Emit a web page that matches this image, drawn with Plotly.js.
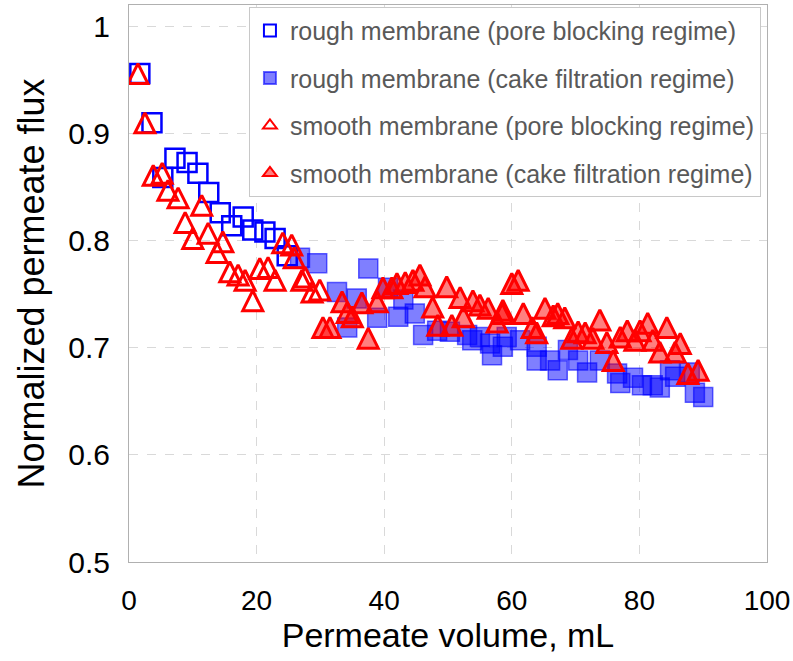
<!DOCTYPE html>
<html>
<head>
<meta charset="utf-8">
<script src="https://cdn.plot.ly/plotly-3.0.1.min.js"></script>
<style>
  html, body { margin: 0; padding: 0; background: #ffffff; }
  #chart { width: 793px; height: 661px; }
</style>
</head>
<body>
<div id="chart"></div>
<script>
// Rough membrane, pore blocking regime
const roughPoreX = [1.7, 3.6, 5.3, 7.2, 9.1, 10.8, 12.5, 14.3, 16.1, 17.9, 19.4, 21.3, 22.9, 24.8];
const roughPoreY = [0.956, 0.910, 0.859, 0.877, 0.873, 0.863, 0.845, 0.826, 0.814, 0.822, 0.810, 0.808, 0.802, 0.786];

// Rough membrane, cake filtration regime
const roughCakeX = [26.8, 29.5, 32.6, 34.2, 35.7, 37.5, 38.9, 40.6, 42.2, 43.0, 44.8, 46.1, 48.3, 50.3, 53.0, 53.8, 55.0, 56.6, 56.9, 58.6, 59.2, 61.3, 63.9, 63.9, 66.0, 67.2, 68.8, 70.4, 71.8, 73.8, 76.5, 77.0, 79.0, 80.4, 82.1, 83.2, 84.8, 85.6, 87.9, 88.7, 90.0];
const roughCakeY = [0.784, 0.779, 0.752, 0.719, 0.746, 0.774, 0.728, 0.756, 0.729, 0.745, 0.732, 0.712, 0.716, 0.715, 0.712, 0.707, 0.710, 0.704, 0.693, 0.701, 0.710, 0.707, 0.701, 0.688, 0.688, 0.679, 0.698, 0.688, 0.677, 0.688, 0.676, 0.667, 0.672, 0.665, 0.665, 0.663, 0.679, 0.673, 0.677, 0.658, 0.654];

// Smooth membrane, pore blocking regime
const smoothPoreX = [1.4, 2.5, 3.8, 5.2, 6.1, 7.7, 8.8, 10.0, 11.4, 12.4, 13.8, 14.7, 15.8, 17.1, 18.2, 19.4, 20.5, 21.8, 22.9, 24.1, 25.5, 25.9, 27.1, 27.6, 28.7, 29.9];
const smoothPoreY = [0.956, 0.910, 0.861, 0.863, 0.847, 0.840, 0.817, 0.802, 0.833, 0.807, 0.789, 0.799, 0.771, 0.768, 0.763, 0.744, 0.774, 0.775, 0.763, 0.798, 0.796, 0.784, 0.763, 0.766, 0.752, 0.754];

// Smooth membrane, cake filtration regime
const smoothCakeX = [30.4, 31.5, 33.4, 34.2, 35.0, 36.5, 37.5, 38.9, 39.8, 41.2, 42.0, 43.3, 44.5, 45.6, 46.4, 47.6, 48.4, 49.8, 50.6, 51.9, 52.4, 53.9, 55.0, 56.3, 57.7, 58.5, 58.6, 60.0, 61.0, 61.8, 63.2, 63.9, 65.2, 66.5, 67.2, 68.3, 69.4, 70.4, 71.5, 72.7, 73.8, 74.9, 75.9, 77.0, 78.1, 79.3, 80.1, 81.3, 82.1, 83.2, 84.3, 85.6, 86.4, 87.6, 89.2];
const smoothCakeY = [0.719, 0.719, 0.743, 0.733, 0.729, 0.742, 0.709, 0.743, 0.756, 0.756, 0.760, 0.761, 0.763, 0.768, 0.757, 0.738, 0.721, 0.757, 0.721, 0.747, 0.729, 0.744, 0.740, 0.737, 0.724, 0.732, 0.735, 0.760, 0.763, 0.732, 0.719, 0.714, 0.737, 0.730, 0.732, 0.728, 0.709, 0.715, 0.714, 0.709, 0.726, 0.705, 0.688, 0.710, 0.716, 0.707, 0.716, 0.723, 0.707, 0.696, 0.719, 0.696, 0.704, 0.676, 0.679];

const seriesNames = [
  'rough membrane (pore blocking regime)',
  'rough membrane (cake filtration regime)',
  'smooth membrane (pore blocking regime)',
  'smooth membrane (cake filtration regime)'
];
const xTicks = [0, 20, 40, 60, 80, 100];
const yTicks = [0.5, 0.6, 0.7, 0.8, 0.9, 1];
const yTickText = ['0.5', '0.6', '0.7', '0.8', '0.9', '1'];

// Layout constants
const W = 793, H = 661;
const M = { l: 129, r: 26, t: 5, b: 99 };
const yRange = [0.5, 1.02];
const triSize = 20;
// 'arrow-up' triangles hang below their anchor point by one radius; an overlaid
// y axis shifted by that radius (in px) centres each triangle on its data value.
const plotH = H - M.t - M.b;
const yShift = (triSize / 2) * (yRange[1] - yRange[0]) / plotH;

const triLine = '#FF0000';
const traces = [
  {
    x: roughPoreX, y: roughPoreY, name: seriesNames[0], legendgroup: 'g1',
    type: 'scatter', mode: 'markers',
    marker: { symbol: 'square-open', size: 19, color: '#0000FF', line: { width: 2.5, color: '#0000FF' } }
  },
  {
    x: roughCakeX, y: roughCakeY, name: seriesNames[1], legendgroup: 'g2',
    type: 'scatter', mode: 'markers',
    marker: { symbol: 'square', size: 19, color: 'rgba(0,0,255,0.5)', line: { width: 1.5, color: 'rgba(0,0,255,0.6)' } }
  },
  {
    x: smoothPoreX, y: smoothPoreY, name: seriesNames[2], legendgroup: 'g3', showlegend: false,
    type: 'scatter', mode: 'markers', yaxis: 'y2',
    marker: { symbol: 'arrow-up-open', size: triSize, color: triLine, line: { width: 3, color: triLine } }
  },
  {
    x: smoothCakeX, y: smoothCakeY, name: seriesNames[3], legendgroup: 'g4', showlegend: false,
    type: 'scatter', mode: 'markers', yaxis: 'y2',
    marker: { symbol: 'arrow-up', size: triSize, color: 'rgba(255,0,0,0.5)', line: { width: 3, color: triLine } }
  },
  // legend keys for the triangle series (centred triangle symbol)
  {
    x: [null], y: [null], name: seriesNames[2], legendgroup: 'g3', showlegend: true,
    type: 'scatter', mode: 'markers', hoverinfo: 'skip',
    marker: { symbol: 'triangle-up-open', size: 16, color: triLine, line: { width: 3, color: triLine } }
  },
  {
    x: [null], y: [null], name: seriesNames[3], legendgroup: 'g4', showlegend: true,
    type: 'scatter', mode: 'markers', hoverinfo: 'skip',
    marker: { symbol: 'triangle-up', size: 16, color: 'rgba(255,0,0,0.5)', line: { width: 3, color: triLine } }
  }
];

const layout = {
  width: W, height: H,
  margin: M,
  paper_bgcolor: '#ffffff', plot_bgcolor: '#ffffff',
  font: { family: 'Liberation Sans, Arial, sans-serif', color: '#000000' },
  showlegend: true,
  legend: {
    x: 0.188, y: 0.997, xanchor: 'left', yanchor: 'top',
    bgcolor: '#ffffff', bordercolor: '#C8C8C8', borderwidth: 1,
    font: { size: 25, color: '#595959', family: 'Liberation Sans, Arial, sans-serif' },
    tracegroupgap: 12, itemsizing: 'constant'
  },
  xaxis: {
    range: [0, 100], tickvals: xTicks, ticktext: xTicks.map(String),
    showgrid: true, gridcolor: '#D9D9D9', griddash: 'dash', gridwidth: 1,
    showline: true, linecolor: '#B0B0B0', linewidth: 1, mirror: true,
    zeroline: false, ticks: '', ticklabelstandoff: 13,
    tickfont: { size: 28, color: '#000000' },
    title: { text: 'Permeate volume, mL', standoff: 0, font: { size: 34, color: '#000000' } }
  },
  yaxis: {
    range: yRange, tickvals: yTicks, ticktext: yTickText,
    showgrid: true, gridcolor: '#D9D9D9', griddash: 'dash', gridwidth: 1,
    showline: true, linecolor: '#B0B0B0', linewidth: 1, mirror: true,
    zeroline: false, ticks: '', ticklabelstandoff: 12,
    tickfont: { size: 30, color: '#000000' },
    title: { text: 'Normalized permeate flux', standoff: 12, font: { size: 36, color: '#000000' } }
  },
  yaxis2: {
    overlaying: 'y', range: [yRange[0] - yShift, yRange[1] - yShift],
    visible: false, showgrid: false, zeroline: false, fixedrange: true
  }
};

Plotly.newPlot('chart', traces, layout, { displayModeBar: false, staticPlot: true });
</script>
</body>
</html>
